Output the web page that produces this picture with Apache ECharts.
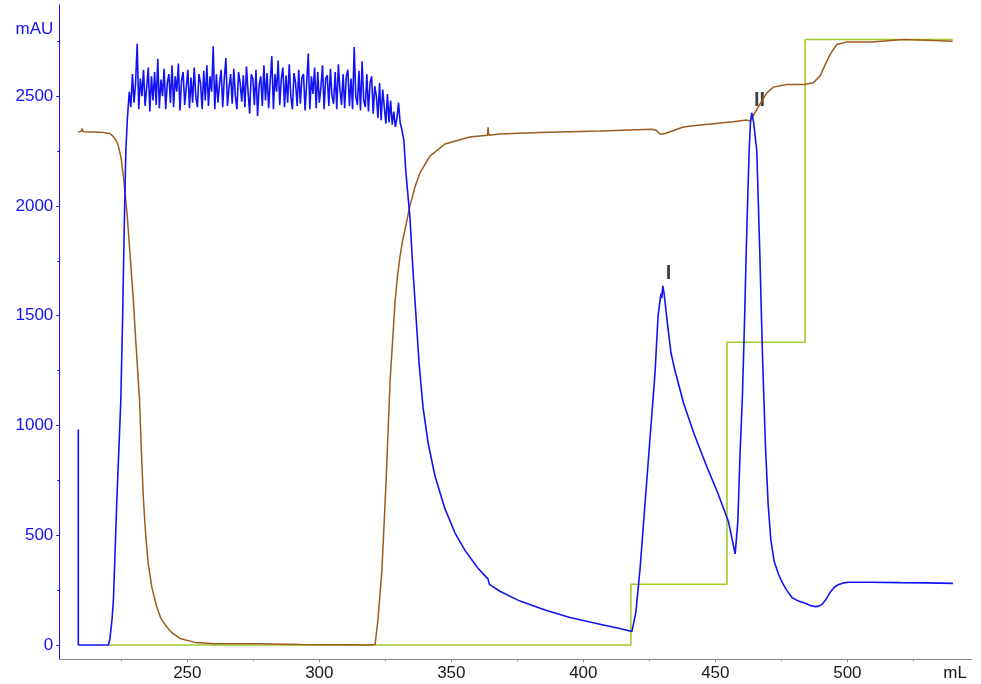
<!DOCTYPE html>
<html>
<head>
<meta charset="utf-8">
<title>Chromatogram</title>
<script src="https://cdn.jsdelivr.net/npm/echarts@6/dist/echarts.min.js"></script>
<style>
  html, body { margin: 0; padding: 0; background: #fff; }
  #main { width: 981px; height: 684px; }
</style>
</head>
<body>
<div id="main"></div>
<script>
// axis ticks / labels
const xTicks = [250, 300, 350, 400, 450, 500];
const xMinorTicks = [225, 275, 325, 375, 425, 475, 525];
const yTicks = [0, 500, 1000, 1500, 2000, 2500];
const yMinorTicks = [250, 750, 1250, 1750, 2250, 2750];
const xUnit = 'mL';
const yUnit = 'mAU';

// UV (blue) - before the saturated plateau  [mL, mAU]
const blueHead = [
  [208.7, 982], [208.7, 0], [220.1, 0], [220.7, 30], [221.5, 120], [222.0, 205],
  [223.3, 660], [224.8, 1114], [225.5, 1500], [226.1, 1900], [226.7, 2250], [227.3, 2400]
];
// UV plateau, sampled every 0.6 mL from 228.0 mL
const noiseStart = 228.0;
const noiseStep = 0.6;
const bluePlateau = [
  2520, 2450, 2600, 2470, 2560, 2738, 2440, 2580, 2500, 2620,
  2455, 2540, 2630, 2430, 2590, 2480, 2610, 2460, 2670, 2445,
  2575, 2500, 2625, 2440, 2560, 2600, 2470, 2640, 2450, 2590,
  2520, 2648, 2435, 2570, 2610, 2460, 2540, 2620, 2445, 2585,
  2470, 2630, 2500, 2450, 2600, 2560, 2440, 2615, 2480, 2640,
  2455, 2590, 2520, 2727, 2440, 2600, 2470, 2560, 2620, 2450,
  2580, 2673, 2455, 2540, 2600, 2465, 2625, 2500, 2440, 2610,
  2560, 2475, 2595, 2450, 2635, 2520, 2420, 2600, 2580, 2460,
  2620, 2409, 2550, 2590, 2455, 2640, 2480, 2605, 2445, 2570,
  2682, 2440, 2600, 2520, 2662, 2460, 2580, 2630, 2450, 2595,
  2470, 2645, 2500, 2440, 2605, 2560, 2455, 2620, 2465, 2585,
  2600, 2435, 2560, 2694, 2440, 2590, 2510, 2630, 2445, 2610,
  2470, 2540, 2640, 2440, 2580, 2595, 2455, 2625, 2500, 2465,
  2610, 2440, 2645, 2530, 2460, 2600, 2445, 2590, 2620, 2455,
  2580, 2440, 2724, 2500, 2460, 2615, 2435, 2659, 2480, 2450,
  2600, 2430, 2560, 2590, 2420, 2545, 2500, 2400, 2560, 2390,
  2530, 2450, 2375, 2510, 2380, 2480, 2370, 2430, 2360, 2400,
  2470, 2380, 2350
];
// UV after the plateau: wash-out, peak I, peak II
const blueTail = [
  [332.0, 2300], [332.8, 2150], [334.3, 1950], [335.5, 1700], [336.6, 1500], [337.8, 1280],
  [339.3, 1080], [341.2, 920], [343.8, 770], [347.6, 620], [351.4, 510], [355.2, 430],
  [360.1, 350], [363.9, 300], [364.2, 292], [364.4, 276], [368.4, 245], [376.0, 200],
  [385.5, 160], [394.9, 125], [406.3, 95], [413.8, 75], [418.4, 62],
  [419.9, 150], [421.5, 350], [423.4, 650], [425.3, 950], [426.4, 1120], [427.2, 1250],
  [428.3, 1500], [429.4, 1600], [429.7, 1580], [430.1, 1636], [430.6, 1600], [431.7, 1480],
  [433.2, 1330], [434.7, 1250], [438.0, 1100], [442.0, 960], [446.5, 820], [451.0, 690],
  [455.0, 560], [457.5, 415], [458.5, 560], [459.4, 886], [460.2, 1114], [461.0, 1450],
  [461.7, 1795], [462.3, 2050], [462.8, 2250], [463.3, 2380], [463.8, 2424], [464.5, 2380],
  [465.7, 2250], [466.8, 1800], [467.9, 1300], [469.0, 900], [470.0, 640], [471.0, 480],
  [472.3, 380], [474.0, 320], [475.3, 285], [477.0, 250], [479.1, 215], [481.5, 200],
  [484.0, 190], [486.0, 180], [487.8, 175], [489.2, 177], [490.4, 185], [492.0, 210],
  [493.5, 240], [495.0, 262], [496.5, 275], [498.5, 283], [500.3, 286], [508.6, 286],
  [520.0, 284], [530.0, 283], [540.0, 281]
];

// conductivity (brown)
const brown = [
  [208.6, 2336], [209.8, 2340], [210.1, 2352], [210.6, 2338], [216.9, 2336], [220.7, 2330],
  [221.8, 2318], [222.9, 2300], [223.7, 2280], [224.9, 2220], [226.0, 2110], [227.2, 1960],
  [228.3, 1780], [229.5, 1580], [230.6, 1360], [231.9, 1114], [232.6, 880], [233.3, 680],
  [233.8, 580], [234.3, 490], [235.2, 370], [236.6, 260], [238.4, 174], [240.0, 120],
  [242.2, 83], [244.2, 55], [247.2, 30], [252.9, 12], [260.5, 6], [277.5, 6], [292.7, 2],
  [319.2, 0], [321.1, 2], [322.2, 114], [323.7, 341], [325.3, 750], [326.8, 1205],
  [328.7, 1568], [329.6, 1680], [330.6, 1773], [331.5, 1840], [332.5, 1895], [334.3, 2000],
  [336.2, 2085], [338.1, 2150], [341.9, 2227], [347.6, 2282], [357.0, 2314], [363.7, 2322],
  [363.9, 2358], [364.2, 2322], [368.4, 2327], [383.5, 2334], [406.3, 2341], [425.9, 2349],
  [427.5, 2345], [429.1, 2326], [431.0, 2330], [437.9, 2359], [444.3, 2368], [456.8, 2383],
  [461.9, 2391], [463.2, 2386], [465.7, 2440], [469.5, 2515], [472.0, 2541], [477.0, 2553],
  [483.6, 2553], [487.1, 2561], [489.6, 2591], [493.4, 2689], [496.0, 2735], [499.9, 2747],
  [509.3, 2747], [521.2, 2758], [532.6, 2753], [539.9, 2750]
];

// gradient steps (green)
const green = [
  [220.0, 0], [418.0, 0], [418.0, 277], [454.4, 277], [454.4, 1379],
  [484.0, 1379], [484.0, 2758], [539.9, 2758]
];

// peak names
const peakLabels = [[432.3, 1693, 'I'], [466.7, 2480, 'II']];

// build the blue trace
const blue = blueHead.slice();
bluePlateau.forEach((v, i) => {
  blue.push([+(noiseStart + i * noiseStep).toFixed(2), v]);
});
blueTail.forEach(p => blue.push(p));

const X_MIN = 201.5, X_MAX = 547.1;
const Y_MIN = -65, Y_MAX = 2915;
const FONT = 'Liberation Sans, Arial, sans-serif';
const BLUE = '#1212f5';

const chart = echarts.init(document.getElementById('main'), null, { renderer: 'canvas' });

chart.setOption({
  animation: false,
  backgroundColor: '#fff',
  grid: {
    left: 59.3, right: 9.3, top: 5, bottom: 24.7,
    containLabel: false,
    outerBoundsMode: 'none'
  },
  xAxis: [{
    type: 'value',
    min: X_MIN, max: X_MAX,
    splitLine: { show: false },
    axisLine: { onZero: false, lineStyle: { color: '#8a8a8a', width: 1 } },
    axisTick: { customValues: xTicks, length: 3, lineStyle: { color: '#8a8a8a' } },
    axisLabel: {
      customValues: xTicks.concat([540.8]),
      formatter: v => (v > 530 ? xUnit : String(v)),
      color: '#1a1a1a', fontSize: 17, fontFamily: FONT, margin: 6
    }
  }, {
    type: 'value',
    min: X_MIN, max: X_MAX,
    position: 'bottom',
    splitLine: { show: false },
    axisLine: { show: false, onZero: false },
    axisTick: { customValues: xMinorTicks, length: 2, lineStyle: { color: '#8a8a8a' } },
    axisLabel: { show: false }
  }],
  yAxis: [{
    type: 'value',
    min: Y_MIN, max: Y_MAX,
    splitLine: { show: false },
    axisLine: { show: true, onZero: false, lineStyle: { color: BLUE, width: 1 } },
    axisTick: { show: true, customValues: yTicks, length: 3, lineStyle: { color: BLUE } },
    axisLabel: {
      customValues: yTicks.concat([2805]),
      formatter: v => (v > 2600 ? yUnit : String(v)),
      color: BLUE, fontSize: 17, fontFamily: FONT, margin: 6
    }
  }, {
    type: 'value',
    min: Y_MIN, max: Y_MAX,
    position: 'left',
    splitLine: { show: false },
    axisLine: { show: false, onZero: false },
    axisTick: { show: true, customValues: yMinorTicks, length: 2, lineStyle: { color: BLUE } },
    axisLabel: { show: false }
  }],
  series: [
    {
      name: 'gradient', type: 'line', data: green,
      showSymbol: false, symbol: 'none',
      lineStyle: { color: '#9fcc2b', width: 1.6 }
    },
    {
      name: 'cond', type: 'line', data: brown,
      showSymbol: false, symbol: 'none',
      lineStyle: { color: '#9c5a1e', width: 1.5 }
    },
    {
      name: 'UV', type: 'line', data: blue,
      showSymbol: false, symbol: 'none',
      lineStyle: { color: BLUE, width: 1.6 }
    },
    {
      name: 'peaks', type: 'scatter', data: peakLabels,
      symbolSize: 0,
      label: {
        show: true, position: 'inside',
        formatter: p => p.value[2],
        color: '#111', fontSize: 20, fontWeight: 'bold', fontFamily: FONT
      }
    }
  ]
});
</script>
</body>
</html>
